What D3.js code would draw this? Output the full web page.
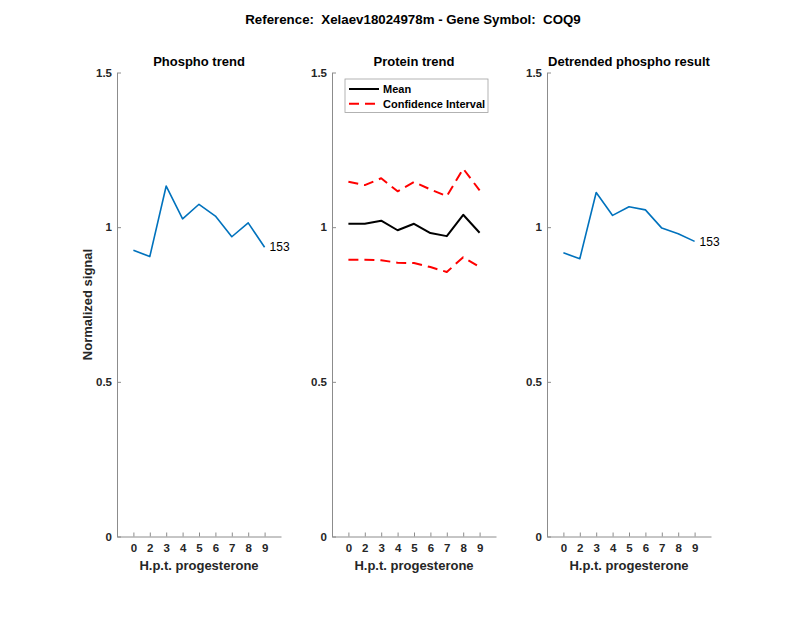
<!DOCTYPE html>
<html>
<head>
<meta charset="utf-8">
<script src="https://cdn.jsdelivr.net/npm/d3@7"></script>
<style>
  body { margin: 0; background: #fff; }
  text { font-family: "Liberation Sans", Arial, sans-serif; }
</style>
</head>
<body>
<svg id="viz" width="800" height="618"></svg>
<script>
// hours post treatment, shown as tick labels
const hours = ["0", "2", "3", "4", "5", "6", "7", "8", "9"];
const yTicks = [0, 0.5, 1, 1.5];

const phospho = [0.925, 0.905, 1.133, 1.027, 1.074, 1.036, 0.969, 1.014, 0.935];
const proteinMean = [1.011, 1.011, 1.021, 0.990, 1.011, 0.981, 0.971, 1.040, 0.982];
const proteinUpper = [1.147, 1.136, 1.158, 1.116, 1.146, 1.122, 1.100, 1.189, 1.119];
const proteinLower = [0.895, 0.895, 0.893, 0.885, 0.884, 0.871, 0.855, 0.903, 0.871];
const detrended = [0.917, 0.898, 1.112, 1.038, 1.066, 1.056, 0.997, 0.979, 0.954];
const peptideLabel = "153";

const panelLeft = [117, 332, 547];
const panelW = 164;
const plotTop = 72.5, plotBottom = 536.5;
const AXIS_COLOR = "#8c8c8c";
const TEXT_COLOR = "#262626";
const BLUE = "#0072BD";
const DASH = "10,6";

const svg = d3.select("#viz");

svg.append("text")
    .attr("x", 413).attr("y", 24)
    .attr("text-anchor", "middle")
    .attr("font-size", 13.3).attr("font-weight", "bold")
    .attr("fill", "#000")
    .attr("xml:space", "preserve")
    .text("Reference:  Xelaev18024978m - Gene Symbol:  COQ9");

const y = d3.scaleLinear().domain([0, 1.5]).range([plotBottom, plotTop]);

// sets up one subplot and returns its x scale
const setUpPanel = (i, title) => {
    const left = panelLeft[i];
    const x = d3.scaleLinear().domain([0, 10]).range([left, left + panelW]);
    const g = svg.append("g");

    const xAxis = g.append("g")
        .attr("transform", `translate(0,${plotBottom})`)
        .call(d3.axisBottom(x)
            .tickValues(d3.range(1, 10))
            .tickFormat(d => hours[d - 1])
            .tickSizeInner(-4).tickSizeOuter(0).tickPadding(7));

    const yAxis = g.append("g")
        .attr("transform", `translate(${left},0)`)
        .call(d3.axisLeft(y)
            .tickValues(yTicks)
            .tickFormat(d => d === 0 ? "0" : d3.format("")(d))
            .tickSizeInner(-4).tickSizeOuter(0).tickPadding(5));

    [xAxis, yAxis].forEach(a => {
        a.select(".domain").attr("stroke", AXIS_COLOR);
        a.selectAll(".tick line").attr("stroke", AXIS_COLOR);
        a.selectAll(".tick text")
            .attr("fill", TEXT_COLOR)
            .attr("font-size", 11.5)
            .attr("font-weight", "bold")
            .attr("font-family", "Liberation Sans, Arial, sans-serif");
    });

    g.append("text")
        .attr("x", left + panelW / 2).attr("y", 66)
        .attr("text-anchor", "middle")
        .attr("font-size", 13).attr("font-weight", "bold")
        .attr("fill", "#000")
        .text(title);

    g.append("text")
        .attr("x", left + panelW / 2).attr("y", 570)
        .attr("text-anchor", "middle")
        .attr("font-size", 13).attr("font-weight", "bold")
        .attr("fill", TEXT_COLOR)
        .text("H.p.t. progesterone");

    return x;
};

const lineFor = x => d3.line()
    .x((d, i) => x(i + 1))
    .y(d => y(d));

const drawTrace = (x, values, color, width, dash) =>
    svg.append("path")
        .datum(values)
        .attr("fill", "none")
        .attr("stroke", color)
        .attr("stroke-width", width)
        .attr("stroke-dasharray", dash || null)
        .attr("stroke-linejoin", "round")
        .attr("d", lineFor(x));

const endLabel = (x, values) =>
    svg.append("text")
        .attr("x", x(values.length) + 5)
        .attr("y", y(values[values.length - 1]))
        .attr("dy", "0.35em")
        .attr("font-size", 12)
        .attr("fill", "#000")
        .text(peptideLabel);

// panel 1
const x1 = setUpPanel(0, "Phospho trend");
drawTrace(x1, phospho, BLUE, 1.6);
endLabel(x1, phospho);

svg.append("text")
    .attr("transform", `translate(92,${(plotTop + plotBottom) / 2}) rotate(-90)`)
    .attr("text-anchor", "middle")
    .attr("font-size", 13).attr("font-weight", "bold")
    .attr("fill", TEXT_COLOR)
    .text("Normalized signal");

// panel 2
const x2 = setUpPanel(1, "Protein trend");
drawTrace(x2, proteinUpper, "#ff0000", 2, DASH);
drawTrace(x2, proteinLower, "#ff0000", 2, DASH);
drawTrace(x2, proteinMean, "#000", 2);

// legend
const legend = svg.append("g").attr("transform", "translate(345,79)");
legend.append("rect")
    .attr("width", 143).attr("height", 33.5)
    .attr("fill", "#fff").attr("stroke", "#a0a0a0").attr("stroke-width", 0.8);
const legendItems = [
    { label: "Mean", color: "#000", dash: null },
    { label: "Confidence Interval", color: "#ff0000", dash: DASH }
];
legendItems.forEach((d, i) => {
    const yy = 10 + i * 14.7;
    legend.append("line")
        .attr("x1", 4).attr("x2", 34).attr("y1", yy).attr("y2", yy)
        .attr("stroke", d.color).attr("stroke-width", 2)
        .attr("stroke-dasharray", d.dash);
    legend.append("text")
        .attr("x", 38).attr("y", yy).attr("dy", "0.35em")
        .attr("font-size", 11).attr("font-weight", "bold")
        .attr("fill", "#000")
        .text(d.label);
});

// panel 3
const x3 = setUpPanel(2, "Detrended phospho result");
drawTrace(x3, detrended, BLUE, 1.6);
endLabel(x3, detrended);
</script>
</body>
</html>
